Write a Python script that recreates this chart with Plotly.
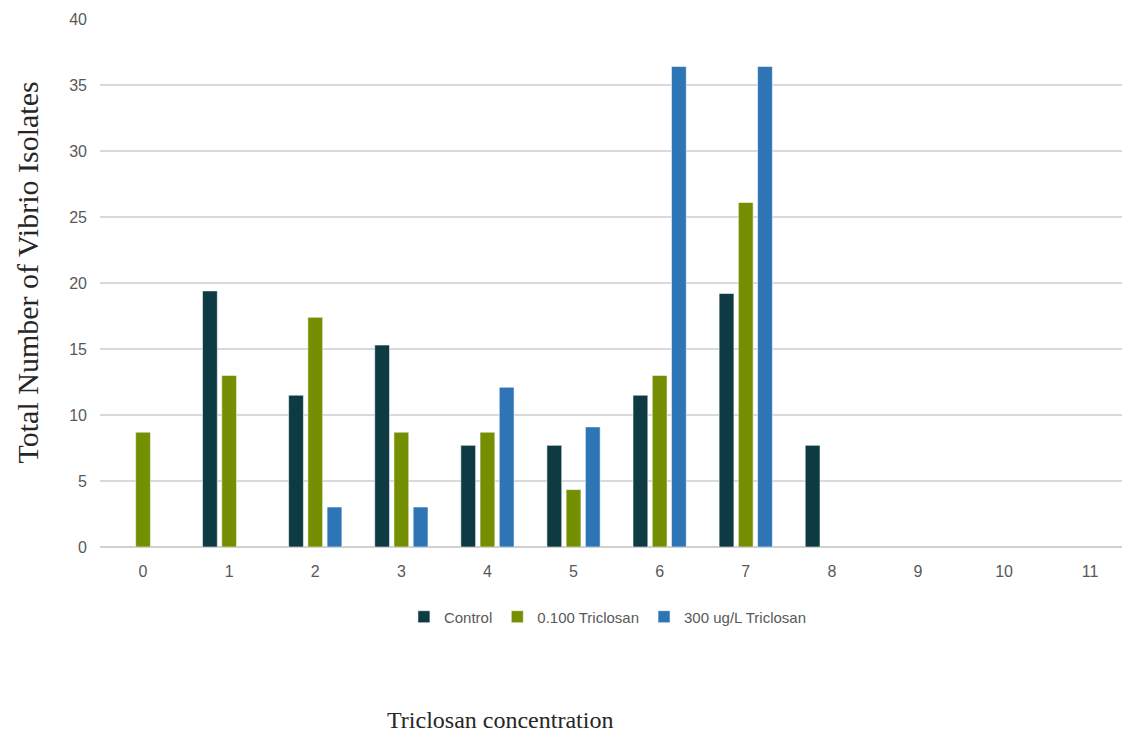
import plotly.graph_objects as go

# Triclosan concentration categories on the x axis
categories = [0, 1, 2, 3, 4, 5, 6, 7, 8, 9, 10, 11]
tick_labels = ["0", "1", "2", "3", "4", "5", "6", "7", "8", "9", "10", "11"]

# Total number of Vibrio isolates per series (None = no isolates recorded)
control = [None, 19.4, 11.5, 15.3, 7.7, 7.7, 11.5, 19.2, 7.7, None, None, None]
triclosan_0100 = [8.7, 13.0, 17.4, 8.7, 8.7, 4.35, 13.0, 26.1, None, None, None, None]
triclosan_300 = [None, None, 3.03, 3.03, 12.1, 9.1, 36.4, 36.4, None, None, None, None]

series_names = ["Control", "0.100 Triclosan", "300 ug/L Triclosan"]
series_colors = ["#0e3a44", "#758f02", "#2e75b6"]

fig = go.Figure()
for name, vals, color in zip(series_names, [control, triclosan_0100, triclosan_300], series_colors):
    fig.add_trace(go.Bar(
        x=categories, y=vals, name=name,
        marker=dict(color=color, line=dict(color="rgba(255,255,255,0.55)", width=1)),
    ))

tick_font = dict(family="Liberation Sans, Arial, sans-serif", size=16, color="#595959")

fig.update_layout(
    width=1122, height=738,
    margin=dict(l=100, r=0, t=19, b=191),
    paper_bgcolor="white", plot_bgcolor="white",
    barmode="group", bargap=0.33, bargroupgap=0.23,
    showlegend=True,
    legend=dict(
        orientation="h", x=0.497, xanchor="center", y=-0.1325, yanchor="middle",
        font=dict(family="Liberation Sans, Arial, sans-serif", size=15, color="#595959"),
        itemwidth=30, traceorder="normal",
    ),
    xaxis=dict(
        tickmode="array", tickvals=categories, ticktext=tick_labels,
        range=[-0.5, 11.37], showgrid=False, zeroline=False, showline=False,
        ticks="", tickfont=tick_font, ticklabelstandoff=13,
    ),
    yaxis=dict(
        range=[0, 40], dtick=5, tick0=0,
        showgrid=True, gridcolor="#d9d9d9", gridwidth=2,
        zeroline=True, zerolinecolor="#d0d0d0", zerolinewidth=2,
        showline=False, ticks="", tickfont=tick_font, ticklabelstandoff=12,
    ),
    annotations=[
        dict(text="Total Number of Vibrio Isolates", xref="paper", yref="paper",
             x=-0.0714, y=0.52, xanchor="center", yanchor="middle", textangle=-90,
             showarrow=False,
             font=dict(family="Liberation Serif, Times New Roman, serif", size=30, color="#262626")),
        dict(text="Triclosan concentration", xref="paper", yref="paper",
             x=0.391, y=-0.327, xanchor="center", yanchor="middle",
             showarrow=False,
             font=dict(family="Liberation Serif, Times New Roman, serif", size=24, color="#262626")),
    ],
)

fig.write_html("out.html")
